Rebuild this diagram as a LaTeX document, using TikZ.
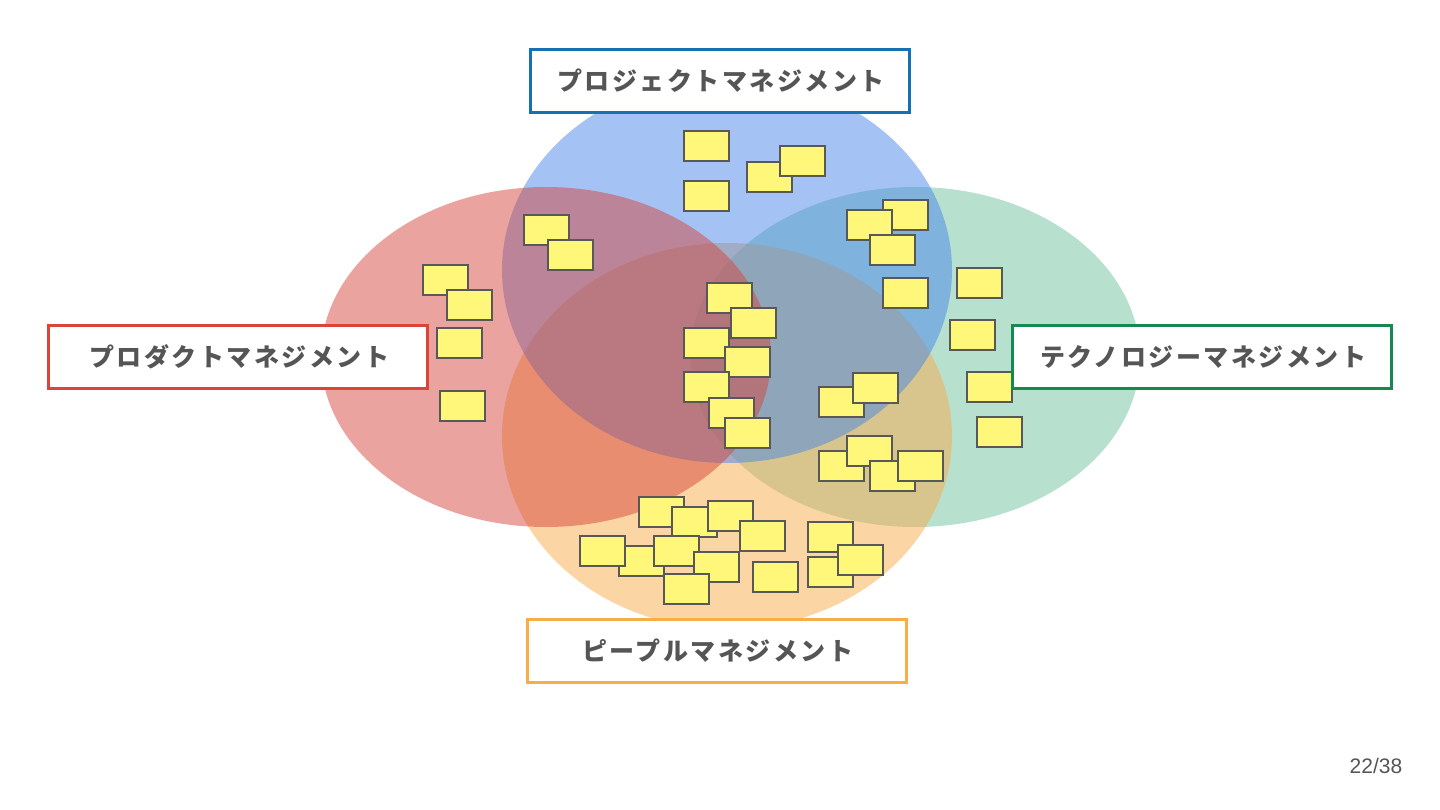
\documentclass[tikz,border=0pt]{standalone}
\usepackage{fontspec}
\usetikzlibrary{shapes.geometric}
\newfontfamily\jp{Noto Sans CJK JP}[LetterSpace=10]
\newfontfamily\pgnum{Liberation Sans}
\definecolor{cRed}{RGB}{213,71,61}
\definecolor{cBlue}{RGB}{73,133,233}
\definecolor{cGreen}{RGB}{111,193,159}
\definecolor{cOrange}{RGB}{249,171,75}
\definecolor{bBlue}{RGB}{22,112,180}
\definecolor{bRed}{RGB}{220,68,55}
\definecolor{bGreen}{RGB}{20,138,80}
\definecolor{bOrange}{RGB}{246,174,69}
\definecolor{noteFill}{RGB}{255,247,122}
\definecolor{noteLine}{RGB}{88,88,88}
\definecolor{txt}{RGB}{85,85,85}
\tikzset{
  circ/.style={ellipse, inner sep=0pt, fill opacity=0.5, minimum width=450pt},
  note/.style={rectangle, anchor=north west, inner sep=0pt, fill=noteFill, draw=noteLine, line width=2pt, minimum width=45pt, minimum height=30pt},
  label/.style={rectangle, fill=white, line width=3pt, inner sep=0pt, minimum width=379pt, minimum height=63pt, text=txt, font=\jp\bfseries\fontsize{25}{30}\selectfont}
}
\begin{document}
\begin{tikzpicture}[x=1pt,y=-1pt]
\useasboundingbox (0,0) rectangle (1440,810);
% circles
\node[circ, fill=cGreen, minimum height=340pt] (eg) at (915,357) {};
\node[circ, fill=cOrange, minimum height=386pt] (eo) at (727,436) {};
\node[circ, fill=cBlue, minimum height=386pt] (eb) at (727,270) {};
\node[circ, fill=cRed, minimum height=340pt] (er) at (546,357) {};
% sticky notes
\foreach \i/\x/\y in {1/683/130, 2/683/180, 3/746/161, 4/779/145, 5/882/199, 6/846/209, 7/869/234, 8/882/277,
  9/523/214, 10/547/239, 11/422/264, 12/446/289, 13/436/327, 14/439/390,
  15/706/282, 16/730/307, 17/683/327, 18/724/346, 19/683/371, 20/708/397, 21/724/417,
  22/956/267, 23/949/319, 24/966/371, 25/976/416,
  26/818/386, 27/852/372, 28/818/450, 29/846/435, 30/869/460, 31/897/450,
  32/638/496, 33/671/506, 34/707/500, 35/739/520, 36/618/545, 37/579/535, 38/653/535,
  39/693/551, 40/663/573, 41/752/561, 42/807/521, 43/807/556, 44/837/544}
  \node[note] (n\i) at (\x,\y) {};
% labels
\node[label, draw=bBlue] (lproj) at (719.5,81) {プロジェクトマネジメント\kern-2.5pt};
\node[label, draw=bRed] (lprod) at (238,356.5) {プロダクトマネジメント\kern-2.5pt};
\node[label, draw=bGreen] (ltech) at (1202,356.5) {テクノロジーマネジメント\kern-2.5pt};
\node[label, draw=bOrange] (lpeop) at (716.5,651) {ピープルマネジメント\kern-2.5pt};
% page number
\node[text=txt, font=\pgnum\fontsize{21}{24}\selectfont, inner sep=0pt] (pg) at (1376,766) {22/38};
\end{tikzpicture}
\end{document}
